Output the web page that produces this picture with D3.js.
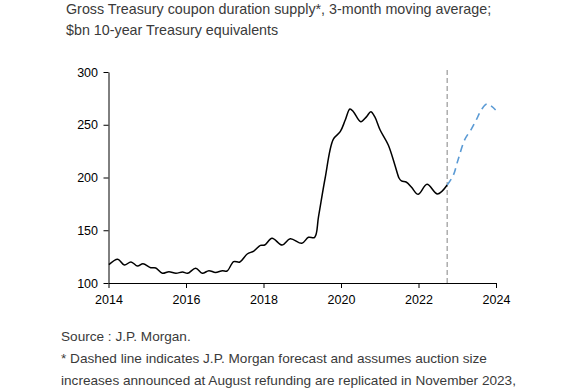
<!DOCTYPE html>
<html><head><meta charset="utf-8">
<script src="https://cdn.jsdelivr.net/npm/d3@7"></script>
<style>
html,body{margin:0;padding:0;background:#fff;}
svg{display:block;font-family:"Liberation Sans",Arial,sans-serif;}
</style></head>
<body>
<svg id="c" width="568" height="390"></svg>
<script>
// Actual (3-month moving average), fractional years
const actualYears = [2014.01,2014.24,2014.41,2014.58,2014.75,2014.89,2015.09,2015.22,2015.39,2015.56,2015.74,2015.91,2016.04,2016.25,2016.42,2016.59,2016.76,2016.94,2017.06,2017.23,2017.39,2017.58,2017.75,2017.92,2018.03,2018.22,2018.48,2018.69,2018.99,2019.16,2019.32,2019.42,2019.59,2019.80,2019.98,2020.11,2020.23,2020.32,2020.51,2020.66,2020.77,2020.87,2021.01,2021.22,2021.39,2021.50,2021.56,2021.69,2021.82,2021.99,2022.22,2022.49,2022.74];
const actualValues = [117.4,122.5,117,120,116,118.3,114.5,114.2,109.2,110.7,109.2,110.4,109.2,114,109.2,111.7,110,111.7,111.4,120.2,119.9,127.5,130.3,135.7,136,142.4,136,142,137.6,143.3,143.3,162.9,199.3,236.2,243.4,254.5,265,262.4,252.9,257.7,262.4,257.7,245,230.8,211.9,199.3,196.7,195.5,190.7,184.1,193.6,184.4,192.9];
// Forecast (dashed)
const forecastYears = [2022.74,2022.89,2023.02,2023.19,2023.36,2023.49,2023.62,2023.77,2023.99];
const forecastValues = [192.9,201.4,216.6,235.6,245.7,254.5,264,269.7,264];
const forecastStart = 2022.74;
const xTicks = [2014,2016,2018,2020,2022,2024];
const yTicks = [100,150,200,250,300];
const titleLines = ["Gross Treasury coupon duration supply*, 3-month moving average;","$bn 10-year Treasury equivalents"];
const footLines = ["Source : J.P. Morgan.","* Dashed line indicates J.P. Morgan forecast and assumes auction size","increases announced at August refunding are replicated in November 2023,"];

const svg = d3.select("#c");
const x = d3.scaleLinear().domain([2014,2024]).range([108.5,496]);
const y = d3.scaleLinear().domain([100,300]).range([283,72]);

// title
svg.append("g").selectAll("text").data(titleLines).join("text")
  .attr("x",66).attr("y",(d,i)=>14+i*21)
  .attr("font-size",14.3).attr("fill","#3a3a3a").text(d=>d);

// axes
const xAxis = svg.append("g").attr("transform","translate(0,283)")
  .call(d3.axisBottom(x).tickValues(xTicks).tickFormat(d3.format("d")).tickSize(5).tickSizeOuter(0));
const yAxis = svg.append("g").attr("transform","translate(108.5,0)")
  .call(d3.axisLeft(y).tickValues(yTicks).tickSize(5).tickSizeOuter(0));
[xAxis,yAxis].forEach(a=>{
  a.selectAll("path,line").attr("stroke","#000").attr("stroke-width",1);
  a.selectAll("text").attr("font-size",12.5).attr("fill","#000").attr("font-family","'Liberation Sans',Arial,sans-serif");
});
xAxis.selectAll("text").attr("dy","1.05em");
yAxis.selectAll("text").attr("dx","-0.2em");

// vertical forecast divider
svg.append("line").attr("x1",x(forecastStart)).attr("x2",x(forecastStart))
  .attr("y1",70).attr("y2",283).attr("stroke","#999").attr("stroke-width",1.2)
  .attr("stroke-dasharray","5,3");

const line = d3.line().x(d=>x(d[0])).y(d=>y(d[1])).curve(d3.curveCatmullRom.alpha(0.5));
svg.append("path").datum(actualYears.map((v,i)=>[v,actualValues[i]]))
  .attr("d",line).attr("fill","none").attr("stroke","#000").attr("stroke-width",1.5);
svg.append("path").datum(forecastYears.map((v,i)=>[v,forecastValues[i]]))
  .attr("d",line).attr("fill","none").attr("stroke","#5b9bd5").attr("stroke-width",1.6)
  .attr("stroke-dasharray","7,5");

// footer
svg.append("g").selectAll("text").data(footLines).join("text")
  .attr("x",61).attr("y",(d,i)=>341+i*22)
  .attr("font-size",13.6).attr("fill","#3a3a3a").text(d=>d);
</script>
</body></html>
